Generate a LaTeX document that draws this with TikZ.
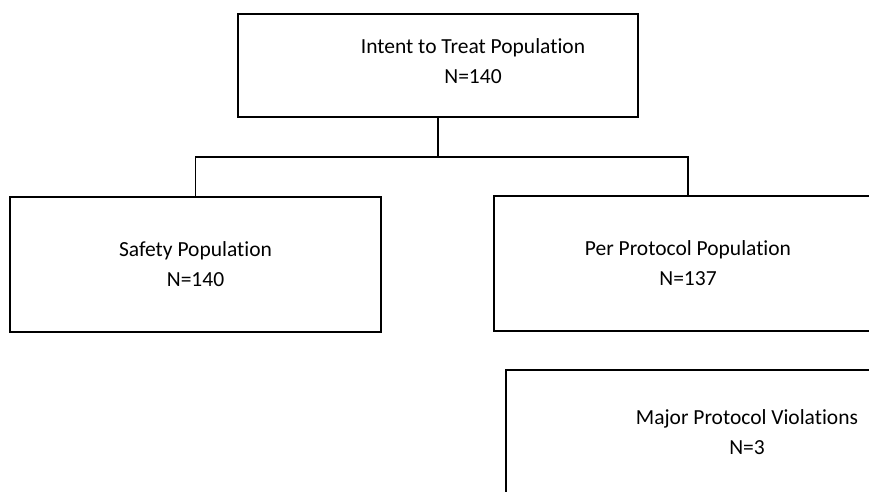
\documentclass[tikz,border=0pt]{standalone}
\usepackage{fontspec}
\setmainfont{Carlito}[Ligatures=NoCommon]
\usetikzlibrary{positioning,calc}

\begin{document}
\begin{tikzpicture}[x=1pt,y=-1pt,
    box/.style={draw, line width=1.5pt, inner sep=0pt},
    txt/.style={align=center, font=\fontsize{21.5}{30}\selectfont},
    link/.style={line width=1.5pt}]
  \clip (0,0) rectangle (869,491);

  % boxes
  \node[box, minimum width=400pt, minimum height=103pt] (itt) at (438,65.5) {};
  \node[txt] (itttext) at (473,61) {Intent to Treat Population\\N=140};

  \node[box, txt, minimum width=371pt, minimum height=135pt] (safety) at (195.5,264.5)
      {Safety Population\\N=140};
  \node[box, txt, minimum width=388pt, minimum height=135pt] (pp) at (688,263.5)
      {Per Protocol Population\\N=137};
  \node[box, txt, minimum width=482pt, minimum height=124pt] (major) at (747,432)
      {Major Protocol Violations\\N=3};

  % connectors
  \coordinate (split) at (438,157);
  \draw[link] (itt.south) -- (split);
  \draw[link] (safety.north) |- (split) -| (pp.north);
\end{tikzpicture}
\end{document}
